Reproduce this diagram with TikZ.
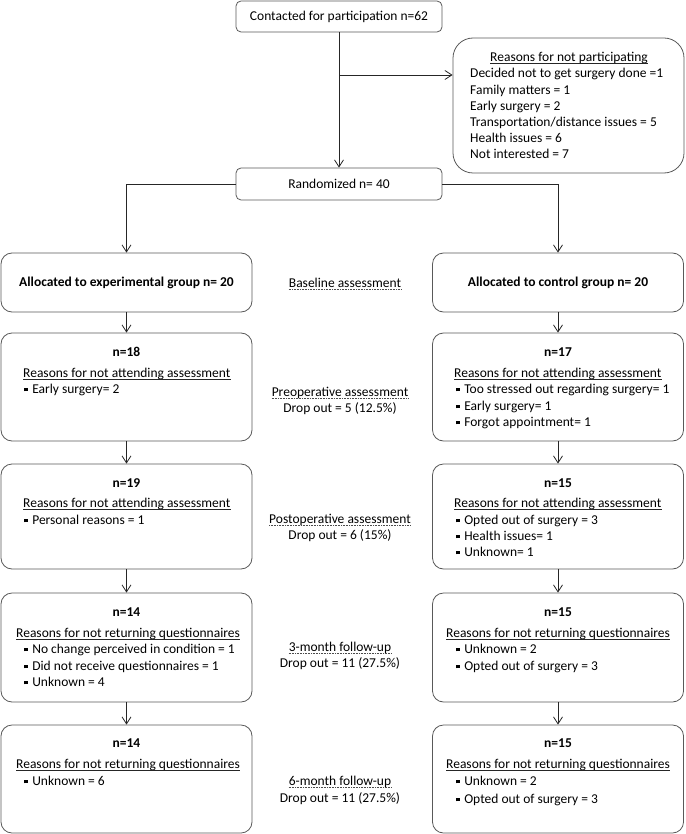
\documentclass[tikz,border=0pt]{standalone}
\usepackage{fontspec}
\setmainfont{Carlito}
\usetikzlibrary{arrows.meta}
\newcommand{\sqb}{\raisebox{1.6pt}{\rule{3.6pt}{3.6pt}}\hspace{4.5pt}}

\begin{document}
\begin{tikzpicture}[x=1pt,y=-1pt,
    every node/.style={font=\fontsize{13.5}{16}\selectfont},
    box/.style={draw=black!65, line width=0.8pt, rounded corners=11pt, inner sep=0pt, minimum width=251pt},
    txt/.style={inner sep=0pt, anchor=base west},
    ctr/.style={inner sep=0pt, anchor=base},
    arr/.style={draw=black!85, line width=0.8pt, -{Straight Barb[length=7pt,width=9pt]}}]
    \useasboundingbox (0,0) rectangle (685,834);

    % Top of the chart
    \node[box, rounded corners=5pt, minimum width=206pt, minimum height=31pt] (contact) at (339,16.5) {Contacted for participation n=62};
    \node[box, rounded corners=20pt, minimum width=231pt, minimum height=135pt] (notpart) at (568.5,105.5) {};
    \node[box, rounded corners=5pt, minimum width=206pt, minimum height=32pt] (rand) at (339,184) {Randomized n= 40};

    % Reasons for not participating
    \node[ctr] (np0) at (569,62) {Reasons for not participating};
    \node[txt] (np1) at (470,78) {Decided not to get surgery done =1};
    \node[txt] (np2) at (470,95) {Family matters = 1};
    \node[txt] (np3) at (470,111) {Early surgery = 2};
    \node[txt] (np4) at (470,127) {Transportation/distance issues = 5};
    \node[txt] (np5) at (470,143) {Health issues = 6};
    \node[txt] (np6) at (470,159) {Not interested = 7};

    % Group boxes
    \node[box, minimum height=59pt] (exp0) at (126.5,282.5) {\textbf{Allocated to experimental group n= 20}};
    \node[box, minimum height=59pt] (ctl0) at (558,282.5) {\textbf{Allocated to control group n= 20}};
    \node[box, minimum height=108pt] (exp1) at (126.5,387) {};
    \node[box, minimum height=108pt] (ctl1) at (558,387) {};
    \node[box, minimum height=105pt] (exp2) at (126.5,516.5) {};
    \node[box, minimum height=105pt] (ctl2) at (558,516.5) {};
    \node[box, minimum height=109pt] (exp3) at (126.5,647.5) {};
    \node[box, minimum height=109pt] (ctl3) at (558,647.5) {};
    \node[box, minimum height=108pt] (exp4) at (126.5,779) {};
    \node[box, minimum height=108pt] (ctl4) at (558,779) {};

    % Connectors
    \coordinate (split) at (339,75);
    \draw[arr] (contact) -- (rand);
    \draw[arr] (split) -- (split -| notpart.west);
    \draw[arr] (rand.west) -| (exp0.north);
    \draw[arr] (rand.east) -| (ctl0.north);
    \draw[arr] (exp0) -- (exp1);
    \draw[arr] (exp1) -- (exp2);
    \draw[arr] (exp2) -- (exp3);
    \draw[arr] (exp3) -- (exp4);
    \draw[arr] (ctl0) -- (ctl1);
    \draw[arr] (ctl1) -- (ctl2);
    \draw[arr] (ctl2) -- (ctl3);
    \draw[arr] (ctl3) -- (ctl4);

    % Assessment labels in the middle
    \node[ctr] (m0) at (345,287) {Baseline assessment};
    \node[ctr] (m1) at (340,396) {Preoperative assessment};
    \node[ctr] (m1d) at (340,412) {Drop out = 5 (12.5\%)};
    \node[ctr] (m2) at (340,523) {Postoperative assessment};
    \node[ctr] (m2d) at (340,539) {Drop out = 6 (15\%)};
    \node[ctr] (m3) at (340,651) {3-month follow-up};
    \node[ctr] (m3d) at (340,667) {Drop out = 11 (27.5\%)};
    \node[ctr] (m4) at (340,785) {6-month follow-up};
    \node[ctr] (m4d) at (340,802) {Drop out = 11 (27.5\%)};
    \foreach \m in {m0,m1,m2,m3,m4}
        \draw[black!70, line width=0.6pt, densely dotted] ([yshift=-2pt]\m.base west) -- ([yshift=-2pt]\m.base east);

    % Preoperative
    \node[ctr] (e1n) at (126.5,356) {\textbf{n=18}};
    \node[txt] (e1r) at (23,377) {Reasons for not attending assessment};
    \node[txt] (e1a) at (24,393) {\sqb Early surgery= 2};
    \node[ctr] (c1n) at (558,356) {\textbf{n=17}};
    \node[txt] (c1r) at (454,377) {Reasons for not attending assessment};
    \node[txt] (c1a) at (456,393) {\sqb Too stressed out regarding surgery= 1};
    \node[txt] (c1b) at (456,410) {\sqb Early surgery= 1};
    \node[txt] (c1c) at (456,426) {\sqb Forgot appointment= 1};

    % Postoperative
    \node[ctr] (e2n) at (126.5,487) {\textbf{n=19}};
    \node[txt] (e2r) at (23,507) {Reasons for not attending assessment};
    \node[txt] (e2a) at (24,524) {\sqb Personal reasons = 1};
    \node[ctr] (c2n) at (558,487) {\textbf{n=15}};
    \node[txt] (c2r) at (454,507) {Reasons for not attending assessment};
    \node[txt] (c2a) at (456,524) {\sqb Opted out of surgery = 3};
    \node[txt] (c2b) at (456,540) {\sqb Health issues= 1};
    \node[txt] (c2c) at (456,556) {\sqb Unknown= 1};

    % 3-month follow-up
    \node[ctr] (e3n) at (126.5,616) {\textbf{n=14}};
    \node[txt] (e3r) at (16,637) {Reasons for not returning questionnaires};
    \node[txt] (e3a) at (24,653) {\sqb No change perceived in condition = 1};
    \node[txt] (e3b) at (24,670) {\sqb Did not receive questionnaires = 1};
    \node[txt] (e3c) at (24,686) {\sqb Unknown = 4};
    \node[ctr] (c3n) at (558,616) {\textbf{n=15}};
    \node[txt] (c3r) at (446,637) {Reasons for not returning questionnaires};
    \node[txt] (c3a) at (456,653) {\sqb Unknown = 2};
    \node[txt] (c3b) at (456,670) {\sqb Opted out of surgery = 3};

    % 6-month follow-up
    \node[ctr] (e4n) at (126.5,747) {\textbf{n=14}};
    \node[txt] (e4r) at (16,768) {Reasons for not returning questionnaires};
    \node[txt] (e4a) at (24,785) {\sqb Unknown = 6};
    \node[ctr] (c4n) at (558,747) {\textbf{n=15}};
    \node[txt] (c4r) at (446,768) {Reasons for not returning questionnaires};
    \node[txt] (c4a) at (456,785) {\sqb Unknown = 2};
    \node[txt] (c4b) at (456,803) {\sqb Opted out of surgery = 3};

    % Underlined headings
    \foreach \u in {np0,e1r,c1r,e2r,c2r,e3r,c3r,e4r,c4r}
        \draw[black!85, line width=0.6pt] ([yshift=-1.8pt]\u.base west) -- ([yshift=-1.8pt]\u.base east);
\end{tikzpicture}
\end{document}
